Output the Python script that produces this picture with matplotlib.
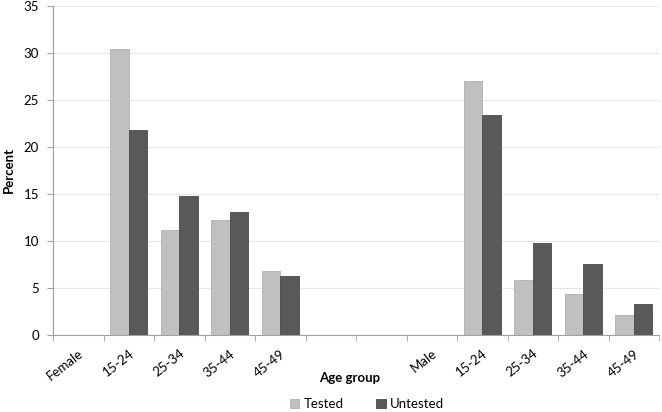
import numpy as np
import matplotlib
matplotlib.use("Agg")
import matplotlib.pyplot as plt

categories = ["Female", "15-24", "25-34", "35-44", "45-49", "", "",
              "Male", "15-24", "25-34", "35-44", "45-49"]
tested = [0, 30.4, 11.2, 12.2, 6.8, 0, 0, 0, 27.0, 5.9, 4.35, 2.1]
untested = [0, 21.8, 14.8, 13.05, 6.25, 0, 0, 0, 23.45, 9.75, 7.55, 3.3]

plt.rcParams['font.family'] = ['Lato', 'DejaVu Sans']

fig = plt.figure(figsize=(6.62, 4.12), dpi=100)
ax = fig.add_axes([53/662, 1 - 335/412, 606/662, 329/412])

x = np.arange(len(categories))
w = 0.365
ax.bar(x - w/2, tested, w, color='#c0c0c0', edgecolor='#b0b0b0', linewidth=0.6, label='Tested', zorder=3)
ax.bar(x + w/2, untested, w, color='#595959', edgecolor='#4a4a4a', linewidth=0.6, label='Untested', zorder=3)

ax.set_xlim(-0.5, len(categories) - 0.5)
ax.set_ylim(0, 35)
ax.set_yticks(range(0, 36, 5))
ax.grid(axis='y', color='#e6e6e6', linewidth=0.8, zorder=0)

ax.set_xticks(x)
ax.set_xticklabels(categories, rotation=38, ha='right', rotation_mode='anchor', fontsize=9.5)
ax.tick_params(axis='x', which='major', length=0, pad=9)
ax.set_xticks(np.arange(-0.5, len(categories)), minor=True)
ax.tick_params(axis='x', which='minor', length=4, color='#a0a0a0', direction='out')
ax.tick_params(axis='y', length=4, color='#a0a0a0', labelsize=9.5, pad=6)

for s in ['top', 'right']:
    ax.spines[s].set_visible(False)
ax.spines['left'].set_color('#a0a0a0')
ax.spines['bottom'].set_color('#a0a0a0')

fig.text(350/662, 1 - 378/412, "Age group", fontweight='bold', fontsize=9.5, ha='center', va='center')
fig.text(9/662, 1 - 170/412, "Percent", fontweight='bold', fontsize=9.5, ha='center', va='center', rotation=90)

fig.legend(loc='center', bbox_to_anchor=(367/662, 1 - 404/412), ncol=2, frameon=False,
           fontsize=9.5, handlelength=0.7, handleheight=0.7, columnspacing=2.5, handletextpad=0.3)

fig.savefig("out.png", dpi=100)
